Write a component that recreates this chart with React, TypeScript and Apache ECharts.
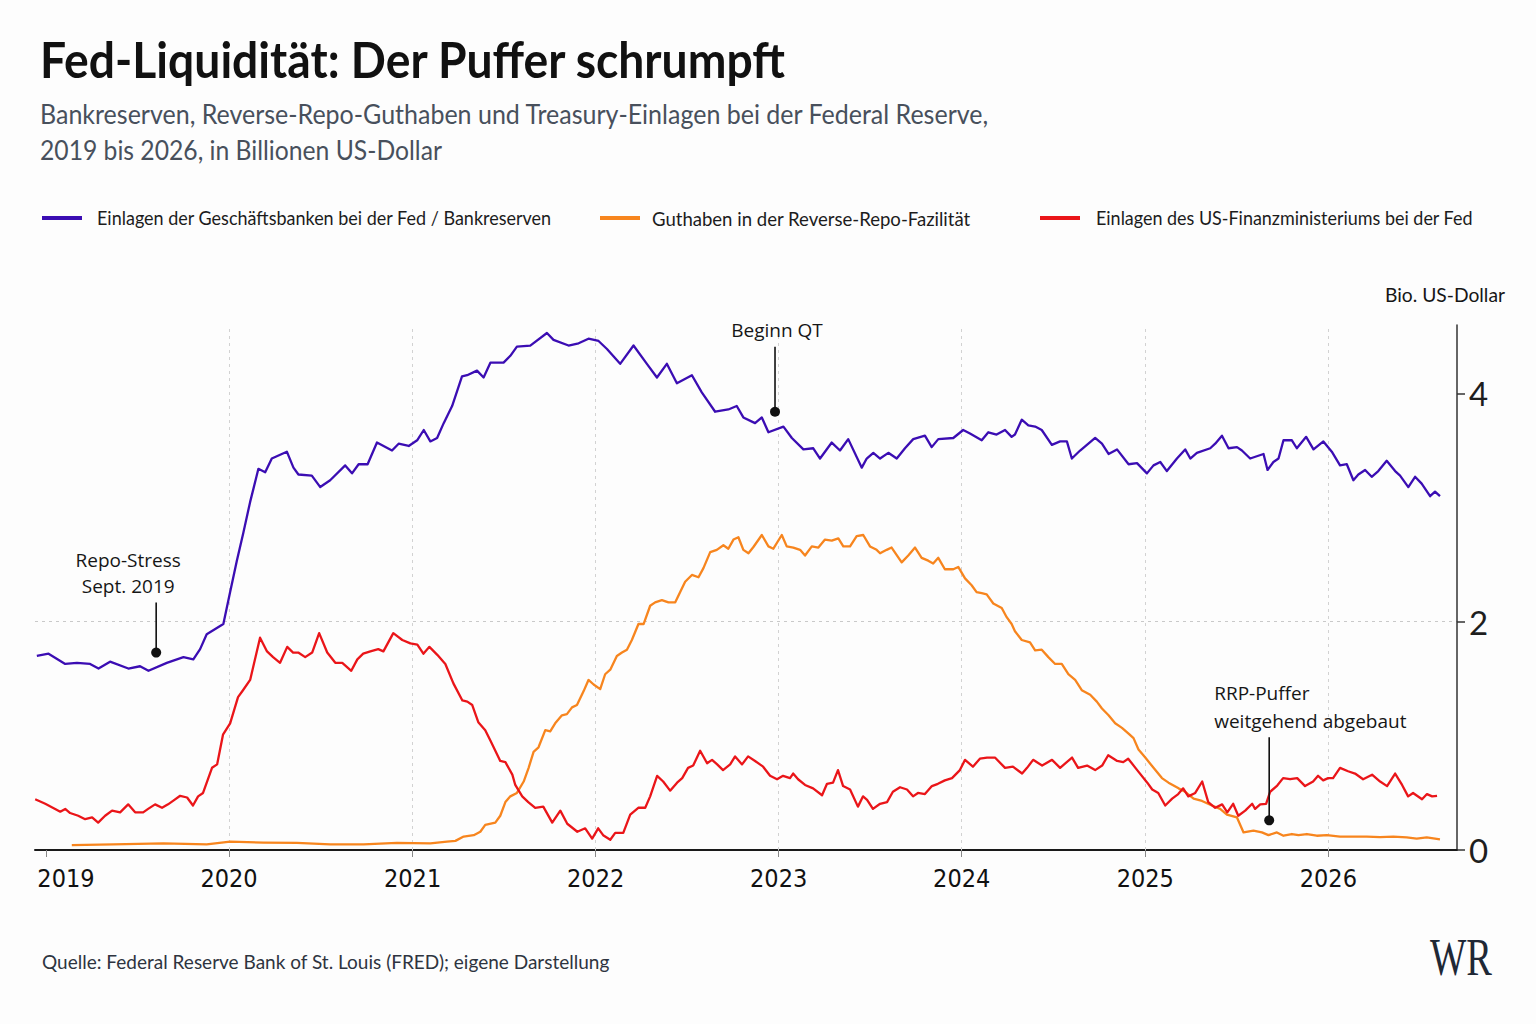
import { useEffect, useRef } from 'react';
import * as echarts from 'echarts';

// Reserve balances (decimal year, trillion USD)
const reservesYear = [
  2018.95, 2019.014, 2019.105, 2019.169, 2019.241, 2019.287, 2019.35, 2019.45, 2019.514, 2019.56,
  2019.66, 2019.751, 2019.805, 2019.842, 2019.878, 2019.969, 2020.006, 2020.042, 2020.078, 2020.115,
  2020.16, 2020.197, 2020.233, 2020.315, 2020.351, 2020.378, 2020.451, 2020.497, 2020.551, 2020.633,
  2020.67, 2020.706, 2020.755, 2020.806, 2020.888, 2020.924, 2020.979, 2021.025, 2021.061, 2021.097,
  2021.134, 2021.17, 2021.216, 2021.27, 2021.298, 2021.352, 2021.388, 2021.425, 2021.497, 2021.534,
  2021.57, 2021.643, 2021.734, 2021.77, 2021.852, 2021.907, 2021.961, 2022.016, 2022.062, 2022.134,
  2022.207, 2022.28, 2022.335, 2022.389, 2022.444, 2022.526, 2022.58, 2022.653, 2022.725, 2022.771,
  2022.807, 2022.871, 2022.908, 2022.944, 2023.026, 2023.072, 2023.135, 2023.189, 2023.226, 2023.29,
  2023.335, 2023.38, 2023.454, 2023.481, 2023.517, 2023.554, 2023.599, 2023.645, 2023.69, 2023.735,
  2023.799, 2023.836, 2023.872, 2023.954, 2024.008, 2024.045, 2024.109, 2024.145, 2024.19, 2024.236,
  2024.272, 2024.29, 2024.327, 2024.363, 2024.4, 2024.436, 2024.491, 2024.536, 2024.573, 2024.6,
  2024.645, 2024.682, 2024.727, 2024.764, 2024.8, 2024.846, 2024.909, 2024.955, 2025.009, 2025.045,
  2025.082, 2025.118, 2025.173, 2025.218, 2025.246, 2025.282, 2025.355, 2025.382, 2025.419, 2025.455,
  2025.501, 2025.528, 2025.573, 2025.646, 2025.668, 2025.7, 2025.728, 2025.755, 2025.801, 2025.828,
  2025.879, 2025.919, 2025.973, 2026.019, 2026.064, 2026.101, 2026.137, 2026.164, 2026.201, 2026.237,
  2026.273, 2026.319, 2026.365, 2026.392, 2026.437, 2026.474, 2026.51, 2026.556, 2026.583, 2026.61,
];
const reservesValue = [
  1.7, 1.72, 1.63, 1.64, 1.63, 1.59, 1.65, 1.59, 1.61, 1.57,
  1.64, 1.69, 1.67, 1.76, 1.89, 1.98, 2.26, 2.53, 2.78, 3.05,
  3.34, 3.31, 3.43, 3.49, 3.35, 3.29, 3.28, 3.18, 3.24, 3.37,
  3.3, 3.38, 3.38, 3.57, 3.5, 3.56, 3.54, 3.59, 3.68, 3.58,
  3.61, 3.74, 3.89, 4.15, 4.16, 4.2, 4.14, 4.27, 4.27, 4.33,
  4.41, 4.42, 4.53, 4.47, 4.42, 4.44, 4.48, 4.46, 4.39, 4.26,
  4.42, 4.26, 4.14, 4.26, 4.09, 4.16, 4.01, 3.84, 3.86, 3.89,
  3.79, 3.74, 3.79, 3.66, 3.71, 3.61, 3.51, 3.52, 3.43, 3.57,
  3.5, 3.6, 3.35, 3.43, 3.48, 3.43, 3.48, 3.43, 3.52, 3.6,
  3.63, 3.53, 3.6, 3.61, 3.68, 3.65, 3.59, 3.66, 3.64, 3.68,
  3.62, 3.64, 3.77, 3.72, 3.71, 3.68, 3.55, 3.58, 3.58, 3.43,
  3.5, 3.55, 3.61, 3.56, 3.47, 3.51, 3.38, 3.39, 3.3, 3.37,
  3.4, 3.32, 3.43, 3.51, 3.43, 3.48, 3.52, 3.56, 3.63, 3.52,
  3.53, 3.5, 3.43, 3.47, 3.33, 3.4, 3.43, 3.59, 3.59, 3.52,
  3.62, 3.51, 3.58, 3.49, 3.37, 3.38, 3.24, 3.29, 3.33, 3.27,
  3.32, 3.41, 3.32, 3.28, 3.18, 3.27, 3.21, 3.1, 3.14, 3.1,
];

// Overnight reverse repo facility (decimal year, trillion USD)
const rrpYear = [
  2019.141, 2019.368, 2019.641, 2019.878, 2020.006, 2020.187, 2020.37, 2020.551, 2020.733, 2020.915,
  2021.097, 2021.188, 2021.234, 2021.279, 2021.334, 2021.37, 2021.397, 2021.452, 2021.479, 2021.507,
  2021.534, 2021.57, 2021.607, 2021.634, 2021.661, 2021.688, 2021.725, 2021.752, 2021.779, 2021.816,
  2021.843, 2021.871, 2021.898, 2021.934, 2021.961, 2021.989, 2022.025, 2022.052, 2022.08, 2022.116,
  2022.144, 2022.171, 2022.198, 2022.234, 2022.262, 2022.298, 2022.325, 2022.362, 2022.398, 2022.435,
  2022.462, 2022.489, 2022.526, 2022.562, 2022.589, 2022.626, 2022.662, 2022.698, 2022.725, 2022.753,
  2022.78, 2022.807, 2022.835, 2022.862, 2022.908, 2022.944, 2022.971, 2023.017, 2023.044, 2023.08,
  2023.117, 2023.144, 2023.181, 2023.217, 2023.253, 2023.29, 2023.326, 2023.353, 2023.39, 2023.426,
  2023.462, 2023.499, 2023.535, 2023.554, 2023.59, 2023.617, 2023.672, 2023.708, 2023.745, 2023.781,
  2023.817, 2023.844, 2023.872, 2023.908, 2023.954, 2023.981, 2024.018, 2024.054, 2024.081, 2024.109,
  2024.136, 2024.172, 2024.218, 2024.245, 2024.272, 2024.29, 2024.327, 2024.372, 2024.4, 2024.436,
  2024.472, 2024.509, 2024.545, 2024.581, 2024.618, 2024.654, 2024.7, 2024.736, 2024.764, 2024.8,
  2024.836, 2024.873, 2024.909, 2024.936, 2024.963, 2025.0, 2025.045, 2025.091, 2025.127, 2025.182,
  2025.218, 2025.264, 2025.31, 2025.364, 2025.409, 2025.446, 2025.501, 2025.537, 2025.591, 2025.637,
  2025.673, 2025.719, 2025.755, 2025.801, 2025.837, 2025.883, 2025.937, 2025.992, 2026.064, 2026.137,
  2026.21, 2026.283, 2026.355, 2026.428, 2026.483, 2026.538, 2026.61,
];
const rrpValue = [
  0.043, 0.05, 0.058, 0.05, 0.073, 0.065, 0.063, 0.05, 0.05, 0.063,
  0.058, 0.073, 0.08, 0.118, 0.13, 0.16, 0.22, 0.24, 0.3, 0.42,
  0.47, 0.5, 0.6, 0.72, 0.86, 0.9, 1.05, 1.04, 1.11, 1.18,
  1.19, 1.25, 1.27, 1.39, 1.49, 1.45, 1.41, 1.54, 1.58, 1.7,
  1.73, 1.755, 1.84, 1.98, 1.98, 2.14, 2.17, 2.19, 2.17, 2.17,
  2.26, 2.35, 2.41, 2.39, 2.47, 2.61, 2.63, 2.67, 2.64, 2.72,
  2.74, 2.63, 2.6, 2.655, 2.76, 2.66, 2.64, 2.76, 2.66, 2.65,
  2.63, 2.58, 2.66, 2.65, 2.72, 2.71, 2.73, 2.66, 2.66, 2.75,
  2.76, 2.66, 2.63, 2.6, 2.63, 2.65, 2.52, 2.58, 2.65, 2.56,
  2.535, 2.51, 2.56, 2.46, 2.46, 2.48, 2.38, 2.32, 2.26, 2.25,
  2.24, 2.16, 2.12, 2.04, 1.98, 1.916, 1.84, 1.82, 1.75, 1.755,
  1.69, 1.63, 1.63, 1.54, 1.49, 1.4, 1.36, 1.3, 1.24, 1.18,
  1.11, 1.07, 1.02, 0.98, 0.88, 0.81, 0.72, 0.63, 0.59, 0.54,
  0.51, 0.45, 0.43, 0.39, 0.36, 0.31, 0.285, 0.154, 0.17, 0.154,
  0.13, 0.154, 0.125, 0.14, 0.13, 0.14, 0.125, 0.13, 0.118, 0.118,
  0.118, 0.112, 0.118, 0.11, 0.1, 0.11, 0.094,
];

// Treasury General Account (decimal year, trillion USD)
const tgaYear = [
  2018.941, 2018.996, 2019.05, 2019.078, 2019.105, 2019.132, 2019.176, 2019.214, 2019.252, 2019.285,
  2019.323, 2019.361, 2019.405, 2019.449, 2019.487, 2019.531, 2019.558, 2019.596, 2019.634, 2019.667,
  2019.694, 2019.733, 2019.771, 2019.803, 2019.831, 2019.858, 2019.907, 2019.935, 2019.967, 2020.006,
  2020.049, 2020.076, 2020.115, 2020.169, 2020.207, 2020.24, 2020.278, 2020.317, 2020.349, 2020.377,
  2020.415, 2020.453, 2020.491, 2020.535, 2020.579, 2020.617, 2020.666, 2020.699, 2020.731, 2020.77,
  2020.813, 2020.841, 2020.895, 2020.944, 2020.988, 2021.026, 2021.059, 2021.092, 2021.135, 2021.179,
  2021.223, 2021.272, 2021.299, 2021.326, 2021.359, 2021.397, 2021.425, 2021.479, 2021.507, 2021.545,
  2021.561, 2021.599, 2021.632, 2021.67, 2021.714, 2021.763, 2021.807, 2021.845, 2021.9, 2021.943,
  2021.981, 2022.014, 2022.041, 2022.08, 2022.107, 2022.151, 2022.189, 2022.233, 2022.271, 2022.298,
  2022.336, 2022.369, 2022.407, 2022.445, 2022.473, 2022.505, 2022.533, 2022.571, 2022.609, 2022.636,
  2022.664, 2022.696, 2022.735, 2022.762, 2022.8, 2022.833, 2022.871, 2022.915, 2022.953, 2022.991,
  2023.024, 2023.062, 2023.079, 2023.106, 2023.144, 2023.188, 2023.237, 2023.264, 2023.297, 2023.324,
  2023.352, 2023.39, 2023.433, 2023.461, 2023.483, 2023.515, 2023.554, 2023.592, 2023.624, 2023.663,
  2023.701, 2023.734, 2023.761, 2023.799, 2023.837, 2023.87, 2023.908, 2023.947, 2023.99, 2024.018,
  2024.061, 2024.099, 2024.138, 2024.181, 2024.236, 2024.279, 2024.329, 2024.356, 2024.389, 2024.438,
  2024.492, 2024.536, 2024.601, 2024.634, 2024.683, 2024.727, 2024.765, 2024.798, 2024.847, 2024.88,
  2024.907, 2024.956, 2025.011, 2025.038, 2025.071, 2025.109, 2025.147, 2025.18, 2025.207, 2025.235,
  2025.273, 2025.311, 2025.344, 2025.382, 2025.42, 2025.448, 2025.48, 2025.508, 2025.546, 2025.584,
  2025.6, 2025.628, 2025.66, 2025.682, 2025.721, 2025.753, 2025.791, 2025.83, 2025.873, 2025.917,
  2025.944, 2025.972, 2025.999, 2026.026, 2026.064, 2026.108, 2026.146, 2026.19, 2026.239, 2026.283,
  2026.321, 2026.365, 2026.403, 2026.436, 2026.463, 2026.512, 2026.539, 2026.567, 2026.594,
];
const tgaValue = [
  0.445, 0.405, 0.36, 0.336, 0.36, 0.324, 0.3, 0.27, 0.285, 0.24,
  0.3, 0.345, 0.33, 0.4, 0.33, 0.33, 0.36, 0.4, 0.37, 0.4,
  0.43, 0.475, 0.46, 0.39, 0.47, 0.5, 0.72, 0.75, 1.01, 1.11,
  1.34, 1.4, 1.49, 1.86, 1.74, 1.69, 1.64, 1.78, 1.73, 1.73,
  1.69, 1.73, 1.9, 1.73, 1.64, 1.64, 1.57, 1.67, 1.72, 1.74,
  1.76, 1.74, 1.9, 1.84, 1.81, 1.8, 1.72, 1.78, 1.71, 1.63,
  1.46, 1.31, 1.3, 1.27, 1.12, 1.05, 0.96, 0.78, 0.77, 0.66,
  0.57, 0.47, 0.42, 0.37, 0.38, 0.24, 0.345, 0.23, 0.16, 0.19,
  0.1, 0.19, 0.13, 0.09, 0.15, 0.15, 0.31, 0.37, 0.37, 0.47,
  0.65, 0.6, 0.52, 0.59, 0.63, 0.72, 0.74, 0.87, 0.76, 0.79,
  0.75, 0.7, 0.75, 0.82, 0.75, 0.82, 0.78, 0.73, 0.65, 0.62,
  0.65, 0.63, 0.67, 0.62, 0.57, 0.54, 0.48, 0.58, 0.59, 0.7,
  0.56, 0.53, 0.38, 0.47, 0.44, 0.36, 0.405, 0.42, 0.51, 0.55,
  0.53, 0.47, 0.5, 0.49, 0.56, 0.58, 0.61, 0.63, 0.7, 0.79,
  0.73, 0.8, 0.81, 0.81, 0.72, 0.73, 0.67, 0.72, 0.79, 0.74,
  0.79, 0.72, 0.81, 0.72, 0.74, 0.7, 0.74, 0.83, 0.78, 0.77,
  0.8, 0.7, 0.59, 0.53, 0.5, 0.39, 0.45, 0.49, 0.54, 0.47,
  0.5, 0.6, 0.42, 0.37, 0.4, 0.33, 0.405, 0.3, 0.345, 0.405,
  0.36, 0.4, 0.405, 0.51, 0.565, 0.63, 0.62, 0.63, 0.56, 0.6,
  0.65, 0.61, 0.63, 0.63, 0.72, 0.69, 0.67, 0.62, 0.66, 0.6,
  0.56, 0.67, 0.57, 0.47, 0.5, 0.445, 0.49, 0.47, 0.475,
];

const seriesNames = [
  'Einlagen der Geschäftsbanken bei der Fed / Bankreserven',
  'Guthaben in der Reverse-Repo-Fazilität',
  'Einlagen des US-Finanzministeriums bei der Fed',
];
const seriesColors = ['#3b0db3', '#f7851e', '#ea1519'];

const yearTicks = [2019, 2020, 2021, 2022, 2023, 2024, 2025, 2026];
// Years that get a dashed vertical guide line
const gridYears = [2020, 2021, 2022, 2023, 2024, 2025, 2026];
const valueTicks = [0, 2, 4];

// Annotated points on the chart
const annotationYear = [2019.602, 2022.98, 2025.677];
const annotationValue = [1.73, 3.84, 0.26];
const annotationText = ['Repo-Stress\nSept. 2019', 'Beginn QT', 'RRP-Puffer\nweitgehend abgebaut'];

// Placement of each annotation's label relative to its dot
const annotationLayout = [
  { stem: 50, dx: -28, gap: 4, align: 'center', lineHeight: 26 },
  { stem: 65, dx: 2, gap: 4, align: 'center', lineHeight: 26 },
  { stem: 83, dx: -55, gap: 2, align: 'left', lineHeight: 28 },
];

const SANS = 'Lato, "Open Sans", sans-serif';
const NARROW = '"Liberation Sans Narrow", "DejaVu Sans Condensed", Lato, sans-serif';
const GRID_GREY = '#d2d2d2';

function yearToTime(t: number): number {
  const y = Math.floor(t);
  const a = Date.UTC(y, 0, 1);
  const b = Date.UTC(y + 1, 0, 1);
  return a + (t - y) * (b - a);
}

const YEAR_MS = 365.25 * 24 * 3600 * 1000;

let measureCtx: CanvasRenderingContext2D | null = null;
function fitScale(text: string, font: string, width: number): number {
  if (!measureCtx) measureCtx = document.createElement('canvas').getContext('2d');
  if (!measureCtx) return 1;
  measureCtx.font = font;
  const w = measureCtx.measureText(text).width;
  return w > 0 ? width / w : 1;
}

function fittedText(text: string, x: number, y: number, font: string, width: number, fill: string) {
  return {
    type: 'text',
    x,
    y,
    scaleX: fitScale(text, font, width),
    silent: true,
    style: { text, font, fill, textAlign: 'left', textVerticalAlign: 'middle' },
  };
}

export default function App() {
  const ref = useRef<HTMLDivElement>(null);

  useEffect(() => {
    if (!ref.current) return;
    const chart = echarts.init(ref.current, null, { renderer: 'svg' });

    const lineSeries: any[] = [
      [reservesYear, reservesValue],
      [rrpYear, rrpValue],
      [tgaYear, tgaValue],
    ].map(([ts, vs], i) => ({
      type: 'line',
      name: seriesNames[i],
      data: ts.map((t, k) => [yearToTime(t), vs[k]]),
      showSymbol: false,
      symbol: 'none',
      lineStyle: { color: seriesColors[i], width: 2.3, join: 'round' },
      itemStyle: { color: seriesColors[i] },
      z: 3 + i,
    }));

    // Dashed year guides, carried by the first line series
    lineSeries[0].markLine = {
      silent: true,
      z: 1,
      symbol: ['none', 'none'],
      label: { show: false },
      emphasis: { disabled: true },
      lineStyle: { color: GRID_GREY, type: [3, 4], width: 1 },
      data: gridYears.map((y) => ({ xAxis: yearToTime(y) })),
    };

    const annotationSeries = {
      type: 'custom',
      name: 'annotations',
      silent: true,
      clip: false,
      z: 10,
      data: annotationYear.map((t, i) => [yearToTime(t), annotationValue[i], i]),
      renderItem: (_params: any, api: any) => {
        const p = api.coord([api.value(0), api.value(1)]);
        const i = api.value(2);
        const L = annotationLayout[i];
        return {
          type: 'group',
          children: [
            {
              type: 'line',
              shape: { x1: p[0], y1: p[1], x2: p[0], y2: p[1] - L.stem },
              style: { stroke: '#111', lineWidth: 1.6 },
            },
            {
              type: 'circle',
              shape: { cx: p[0], cy: p[1], r: 5 },
              style: { fill: '#111' },
            },
            {
              type: 'text',
              x: p[0] + L.dx,
              y: p[1] - L.stem - L.gap,
              style: {
                text: annotationText[i],
                fill: '#161616',
                fontSize: 19,
                fontFamily: '"Open Sans", Lato, sans-serif',
                textAlign: L.align,
                textVerticalAlign: 'bottom',
                lineHeight: L.lineHeight,
              },
            },
          ],
        };
      },
    };

    const legendItems: any[] = [];
    const legendX = [42, 600, 1040];
    const legendTextX = [97, 652, 1096];
    const legendTextWidth = [455, 319, 377];
    seriesNames.forEach((name, i) => {
      legendItems.push({
        type: 'rect',
        shape: { x: legendX[i], y: 216, width: 40, height: 4 },
        style: { fill: seriesColors[i] },
        silent: true,
      });
      legendItems.push(fittedText(name, legendTextX[i], 218, `19px ${SANS}`, legendTextWidth[i], '#1c1c1c'));
    });

    chart.setOption({
      animation: false,
      backgroundColor: '#fdfdfd',
      useUTC: true,
      grid: { left: 35, right: 79, top: 325, bottom: 174, containLabel: false },
      xAxis: {
        type: 'time',
        min: yearToTime(2018.94),
        max: yearToTime(2026.703),
        splitNumber: 8,
        minInterval: YEAR_MS,
        maxInterval: YEAR_MS,
        axisLine: { show: true, lineStyle: { color: '#1a1a1a', width: 2 } },
        axisTick: { show: true, length: 7, lineStyle: { color: '#888', width: 1 } },
        axisLabel: {
          color: '#111',
          fontSize: 25,
          fontFamily: NARROW,
          margin: 16,
          hideOverlap: false,
          formatter: (v: number) => {
            const d = new Date(v);
            const y = d.getUTCFullYear();
            if (d.getUTCMonth() !== 0 || d.getUTCDate() !== 1 || !yearTicks.includes(y)) return '';
            return y === yearTicks[0] ? `{first|${y}}` : String(y);
          },
          rich: {
            first: { fontSize: 25, fontFamily: NARROW, color: '#111', padding: [0, 0, 0, 40] },
          },
        },
        splitLine: { show: false },
      },
      yAxis: {
        type: 'value',
        position: 'right',
        min: 0,
        max: 4.6,
        interval: 2,
        axisLine: { show: true, lineStyle: { color: '#333', width: 1.5 } },
        axisTick: { show: true, length: 8, customValues: valueTicks, lineStyle: { color: '#333', width: 1.5 } },
        axisLabel: {
          customValues: valueTicks,
          color: '#1e1e1e',
          fontSize: 33,
          fontFamily: SANS,
          margin: 12,
        },
        splitLine: {
          show: true,
          showMinLine: false,
          showMaxLine: false,
          lineStyle: { color: '#c9c9c9', type: [3, 4], width: 1 },
        },
      },
      graphic: [
        fittedText('Fed-Liquidität: Der Puffer schrumpft', 40, 58, `bold 50px ${SANS}`, 747, '#111111'),
        fittedText(
          'Bankreserven, Reverse-Repo-Guthaben und Treasury-Einlagen bei der Federal Reserve,',
          40, 114, `27px ${SANS}`, 950, '#48505c',
        ),
        fittedText('2019 bis 2026, in Billionen US-Dollar', 40, 150, `27px ${SANS}`, 402, '#48505c'),
        ...legendItems,
        fittedText('Bio. US-Dollar', 1385, 294, `20px ${SANS}`, 120, '#161616'),
        fittedText(
          'Quelle: Federal Reserve Bank of St. Louis (FRED); eigene Darstellung',
          42, 962, `19px ${SANS}`, 568, '#2e3440',
        ),
        fittedText('WR', 1430, 957, '52px "Liberation Serif", "DejaVu Serif", serif', 62, '#1f2836'),
      ],
      series: [...lineSeries, annotationSeries],
    });

    return () => chart.dispose();
  }, []);

  return <div ref={ref} style={{ position: 'fixed', left: 0, top: 0, width: 1536, height: 1024 }} />;
}
